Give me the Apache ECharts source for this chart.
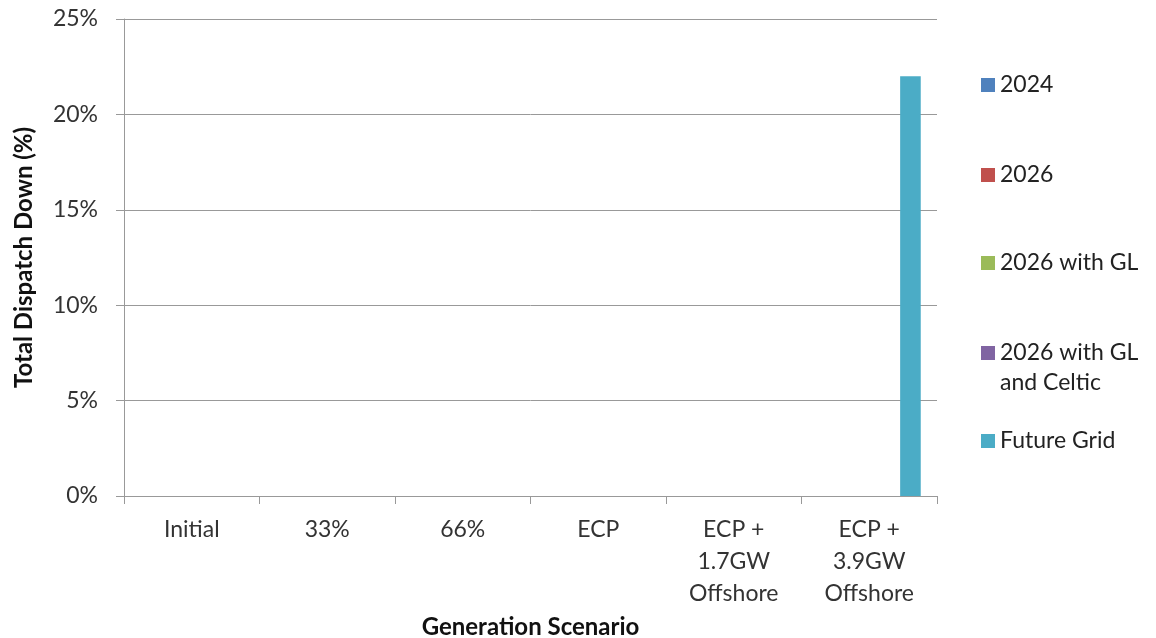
<!DOCTYPE html>
<html><head><meta charset="utf-8">
<script src="https://cdn.jsdelivr.net/npm/echarts@6/dist/echarts.min.js"></script>
<style>html,body{margin:0;padding:0;background:#fff}#c{width:1156px;height:638px}</style>
</head><body><div id="c"></div>
<script>
var categories = ['Initial', '33%', '66%', 'ECP', 'ECP +\n1.7GW\nOffshore', 'ECP +\n3.9GW\nOffshore'];
var seriesNames = ['2024', '2026', '2026 with GL', '2026 with GL\nand Celtic', 'Future Grid'];
var v2024 = [0, 0, 0, 0, 0, 0];
var v2026 = [0, 0, 0, 0, 0, 0];
var v2026GL = [0, 0, 0, 0, 0, 0];
var v2026GLCeltic = [0, 0, 0, 0, 0, 0];
var vFutureGrid = [0, 0, 0, 0, 0, 22];
var yTicks = [0, 5, 10, 15, 20, 25];

var colors = ['#4F81BD', '#C0504D', '#9BBB59', '#8064A2', '#4BACC6'];
var values = [v2024, v2026, v2026GL, v2026GLCeltic, vFutureGrid];
var font = 'Lato, "Open Sans", sans-serif';
var L = 30;
var legendCenters = [85, 175, 263, 353, 441];

var legends = seriesNames.map(function (n, i) {
  var multi = n.indexOf('\n') >= 0;
  return {
    orient: 'vertical', left: 981, top: multi ? legendCenters[i] - 1.5 * L : legendCenters[i] - L / 2,
    padding: 0, itemWidth: 14, itemHeight: 14, itemGap: 0,
    selectedMode: false,
    formatter: multi ? function (name) { return '\n' + name; } : '{name}',
    data: [{ name: n, icon: 'rect' }],
    textStyle: { fontFamily: font, fontSize: 23, color: '#222', lineHeight: L }
  };
});

var chart = echarts.init(document.getElementById('c'));
chart.setOption({
  animation: false,
  color: colors,
  legend: legends,
  grid: { left: 124, right: 219, top: 19, bottom: 142, containLabel: false, outerBoundsMode: 'none' },
  xAxis: {
    type: 'category', data: categories,
    name: 'Generation Scenario', nameLocation: 'middle', nameGap: 106,
    nameTextStyle: { fontFamily: font, fontSize: 24, fontWeight: 'bold', color: '#111' },
    axisLine: { lineStyle: { color: '#999', width: 1 } },
    axisTick: { show: true, alignWithLabel: false, length: 8, lineStyle: { color: '#999' } },
    axisLabel: { fontFamily: font, fontSize: 23, color: '#333', lineHeight: 32, margin: 18, interval: 0 }
  },
  yAxis: {
    type: 'value', min: 0, max: 25, interval: 5,
    name: 'Total Dispatch Down (%)', nameLocation: 'middle', nameGap: 88,
    nameTextStyle: { fontFamily: font, fontSize: 24, fontWeight: 'bold', color: '#111' },
    axisLine: { show: true, lineStyle: { color: '#999', width: 1 } },
    axisTick: { show: true, length: 8, lineStyle: { color: '#999' } },
    axisLabel: { fontFamily: font, fontSize: 23, color: '#333', margin: 26,
      formatter: function (v) { return yTicks.indexOf(v) >= 0 ? v + '%' : ''; } },
    splitLine: { lineStyle: { color: '#999', width: 1 } }
  },
  series: seriesNames.map(function (n, i) {
    return { name: n, type: 'bar', data: values[i], barGap: '0%', barCategoryGap: '24%',
      itemStyle: { color: colors[i] } };
  })
});
</script></body></html>
